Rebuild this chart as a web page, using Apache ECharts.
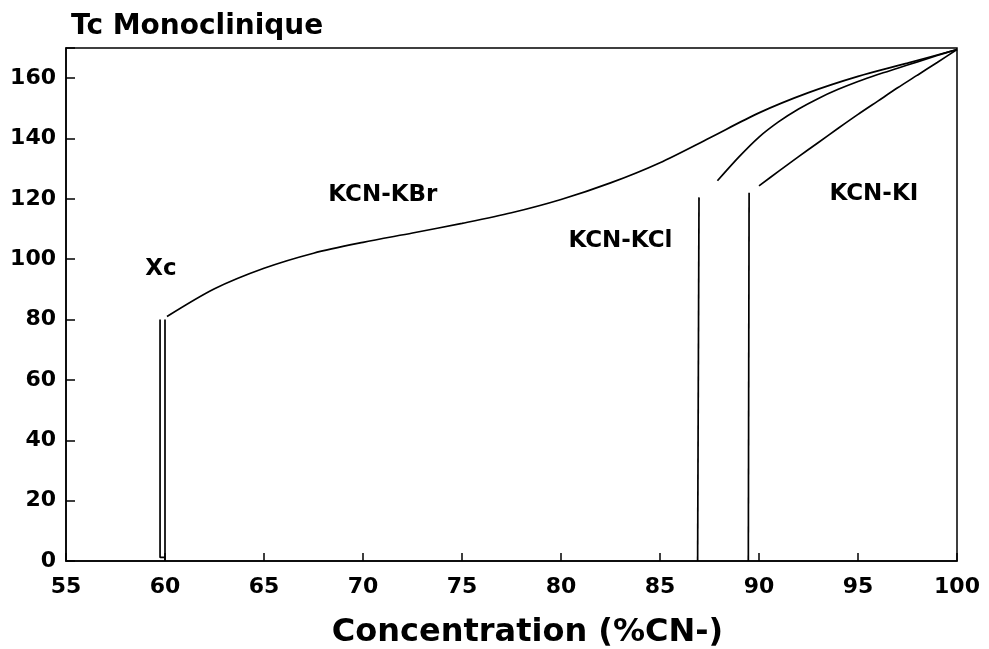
<!DOCTYPE html>
<html>
<head>
<meta charset="utf-8">
<script src="https://cdn.jsdelivr.net/npm/echarts@6/dist/echarts.min.js"></script>
<style>html,body{margin:0;padding:0;background:#fff}#c{width:989px;height:649px}</style>
</head>
<body>
<div id="c"></div>
<script>
// ---- data ----
const xTicks = [55, 60, 65, 70, 75, 80, 85, 90, 95, 100];
const yTicks = [0, 20, 40, 60, 80, 100, 120, 140, 160];

// Xc: narrow closed loop of two vertical lines near 60 %
const xcLine = [[59.75, 80], [59.75, 1.2], [60.0, 1.2], [60.0, 0], [60.0, 80]];

// KCN-KBr curve
const kbrCurve = [[60.1, 81], [62.5, 90.2], [65, 97], [67.5, 102], [70, 105.6], [72.5, 108.7],
  [75, 111.9], [77.5, 115.4], [80, 119.8], [82.5, 125.3], [85, 132], [87.5, 140.2],
  [90, 148.5], [92.5, 155.2], [95, 160.6], [97.5, 165], [100, 169.5]];

// KCN-KCl: vertical boundary and curve
const kclVertical = [[86.9, 0], [86.97, 120.5]];
const kclCurve = [[87.9, 126], [89, 134], [90, 140.5], [91, 145.6], [92, 149.8], [93, 153.3],
  [94, 156.3], [95, 158.9], [96, 161.2], [97, 163.3], [98, 165.4], [99, 167.5], [100, 169.5]];

// KCN-KI: vertical boundary and curve
const kiVertical = [[89.46, 0], [89.5, 122]];
const kiCurve = [[90, 124.3], [91, 129.2], [92, 134], [93, 138.7], [94, 143.4], [95, 148],
  [96, 152.4], [97, 156.8], [98, 161], [99, 165.2], [100, 169.5]];

// text annotations (data coordinates)
const annotations = [
  { name: 'Xc', value: [59.8, 96.8] },
  { name: 'KCN-KBr', value: [71.0, 121.3] },
  { name: 'KCN-KCl', value: [83.0, 106] },
  { name: 'KCN-KI', value: [95.8, 121.6] }
];

const FONT = 'DejaVu Sans';
const lineStyle = { color: '#000', width: 1.7 };
function lineSeries(name, data, smooth) {
  return { name, type: 'line', data, smooth: smooth ? 0.3 : false,
    showSymbol: false, symbol: 'none', lineStyle, silent: true, animation: false };
}

const chart = echarts.init(document.getElementById('c'), null, { renderer: 'canvas' });
chart.setOption({
  backgroundColor: '#fff',
  animation: false,
  title: {
    text: 'Tc Monoclinique', left: 66, top: 8,
    textStyle: { fontFamily: FONT, fontWeight: 'bold', fontSize: 28, color: '#000' }
  },
  grid: { left: 66, right: 32, top: 48, bottom: 88, outerBoundsMode: 'none', containLabel: false,
    show: true, borderColor: '#000', borderWidth: 1.5, backgroundColor: 'transparent' },
  xAxis: {
    type: 'value', min: xTicks[0], max: xTicks[xTicks.length - 1], interval: 5,
    name: 'Concentration (%CN-)', nameLocation: 'middle', nameGap: 56,
    nameTextStyle: { fontFamily: FONT, fontWeight: 'bold', fontSize: 32, color: '#000', padding: [0, 0, 0, 32] },
    axisLine: { lineStyle: { color: '#000', width: 1.5 } },
    axisTick: { inside: true, length: 8, lineStyle: { color: '#000', width: 1.5 } },
    axisLabel: { fontFamily: FONT, fontWeight: 'bold', fontSize: 22, color: '#000', margin: 15 },
    splitLine: { show: false }
  },
  yAxis: {
    type: 'value', min: yTicks[0], max: 170, interval: 20,
    axisLine: { show: true, lineStyle: { color: '#000', width: 1.5 } },
    axisTick: { show: true, inside: true, length: 9, lineStyle: { color: '#000', width: 1.5 } },
    axisLabel: { fontFamily: FONT, fontWeight: 'bold', fontSize: 22, color: '#000', margin: 10,
      formatter: v => (yTicks.indexOf(v) >= 0 ? String(v) : '') },
    splitLine: { show: false }
  },
  series: [
    lineSeries('Xc', xcLine, false),
    lineSeries('KCN-KBr', kbrCurve, true),
    lineSeries('KCN-KCl limite', kclVertical, false),
    lineSeries('KCN-KCl', kclCurve, true),
    lineSeries('KCN-KI limite', kiVertical, false),
    lineSeries('KCN-KI', kiCurve, true),
    {
      name: 'labels', type: 'scatter', data: annotations, symbolSize: 0, silent: true,
      itemStyle: { color: '#000', opacity: 1 },
      label: { show: true, position: 'inside', formatter: p => p.name, opacity: 1,
        textBorderWidth: 0, fontFamily: FONT, fontWeight: 'bold', fontSize: 23, color: '#000' }
    }
  ]
});
</script>
</body>
</html>
